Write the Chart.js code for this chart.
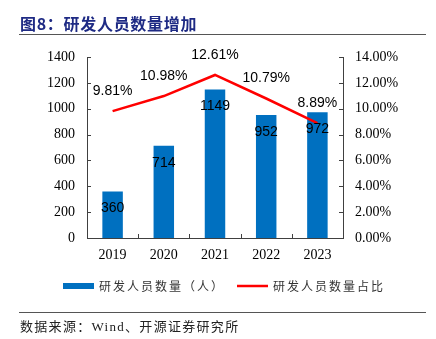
<!DOCTYPE html>
<html lang="zh">
<head>
    <meta charset="UTF-8">
    <title>研发人员数量增加</title>
    <script src="https://cdn.jsdelivr.net/npm/chart.js"></script>
    <style>
        body {
            margin: 0;
            background-color: #fff;
            width: 436px;
            height: 339px;
            overflow: hidden;
            position: relative;
        }
        .title {
            position: absolute;
            left: 20px;
            top: 12px;
            line-height: 22px;
            font-family: "Noto Sans CJK SC", sans-serif;
            font-weight: bold;
            font-size: 16px;
            letter-spacing: 0.7px;
            color: #1e2a84;
        }
        .rule {
            position: absolute;
            left: 19px;
            width: 407px;
            height: 1px;
            background-color: #555;
        }
        .source {
            position: absolute;
            left: 20px;
            top: 317px;
            line-height: 20px;
            font-family: "Liberation Serif", "Noto Sans CJK SC", serif;
            font-size: 13px;
            letter-spacing: 1.3px;
            color: #222;
        }
        #chart {
            position: absolute;
            left: 0;
            top: 0;
        }
    </style>
</head>
<body>
    <canvas id="chart" width="436" height="339"></canvas>
    <div class="title">图8：研发人员数量增加</div>
    <div class="rule" style="top: 34px;"></div>
    <div class="rule" style="top: 312px;"></div>
    <div class="source">数据来源：Wind、开源证券研究所</div>
    <script>
        // data
        const years = ['2019', '2020', '2021', '2022', '2023'];
        const staffCount = [360, 714, 1149, 952, 972];
        const staffShare = [9.81, 10.98, 12.61, 10.79, 8.89];
        const barLabel = '研发人员数量（人）';
        const lineLabel = '研发人员数量占比';

        const axisColor = '#404040';

        // value labels on bars and line points
        const valueLabels = {
            id: 'valueLabels',
            afterDatasetsDraw(chart) {
                const ctx = chart.ctx;
                ctx.save();
                ctx.font = '14px "Liberation Sans", Arial, sans-serif';
                ctx.fillStyle = '#000';
                ctx.textAlign = 'center';
                ctx.textBaseline = 'middle';
                chart.getDatasetMeta(1).data.forEach((el, i) => {
                    ctx.fillText(staffCount[i], el.x, el.y + 17);
                });
                chart.getDatasetMeta(0).data.forEach((el, i) => {
                    ctx.fillText(staffShare[i].toFixed(2) + '%', el.x, el.y - 20);
                });
                ctx.restore();
            }
        };

        // small tick marks pointing into the plot
        const innerTicks = {
            id: 'innerTicks',
            afterDraw(chart) {
                const ctx = chart.ctx;
                const area = chart.chartArea;
                const s = chart.scales;
                ctx.save();
                ctx.strokeStyle = axisColor;
                ctx.lineWidth = 1;
                ctx.beginPath();
                s.y.ticks.forEach(t => {
                    const py = Math.round(s.y.getPixelForValue(t.value)) + 0.5;
                    ctx.moveTo(area.left, py);
                    ctx.lineTo(area.left + 4, py);
                });
                s.y1.ticks.forEach(t => {
                    const py = Math.round(s.y1.getPixelForValue(t.value)) + 0.5;
                    ctx.moveTo(area.right, py);
                    ctx.lineTo(area.right - 4, py);
                });
                for (let i = 1; i < years.length; i++) {
                    const px = Math.round((s.x.getPixelForTick(i - 1) + s.x.getPixelForTick(i)) / 2) + 0.5;
                    ctx.moveTo(px, area.bottom);
                    ctx.lineTo(px, area.bottom - 4);
                }
                ctx.stroke();
                ctx.restore();
            }
        };

        // legend under the axis
        const bottomLegend = {
            id: 'bottomLegend',
            afterDraw(chart) {
                const ctx = chart.ctx;
                const ly = 286;
                ctx.save();
                ctx.fillStyle = chart.data.datasets[1].backgroundColor;
                ctx.fillRect(63, ly - 3, 31, 6);
                ctx.strokeStyle = chart.data.datasets[0].borderColor;
                ctx.lineWidth = 2.5;
                ctx.beginPath();
                ctx.moveTo(237, ly);
                ctx.lineTo(268, ly);
                ctx.stroke();
                ctx.font = '12px "Noto Sans CJK SC", sans-serif';
                ctx.letterSpacing = '2px';
                ctx.fillStyle = '#333';
                ctx.textBaseline = 'middle';
                ctx.fillText(barLabel, 99, ly);
                ctx.fillText(lineLabel, 273, ly);
                ctx.restore();
            }
        };

        const tickFont = { family: '"Liberation Serif", "Times New Roman", serif', size: 14 };

        new Chart(document.getElementById('chart'), {
            data: {
                labels: years,
                datasets: [{
                    type: 'line',
                    label: lineLabel,
                    data: staffShare,
                    yAxisID: 'y1',
                    borderColor: '#ff0000',
                    borderWidth: 2.5,
                    pointRadius: 0,
                    tension: 0,
                    order: 0
                }, {
                    type: 'bar',
                    label: barLabel,
                    data: staffCount,
                    yAxisID: 'y',
                    backgroundColor: '#0070c0',
                    categoryPercentage: 1,
                    barPercentage: 0.4,
                    order: 1
                }]
            },
            options: {
                responsive: false,
                animation: false,
                layout: { padding: { top: 57, bottom: 71, left: 0, right: 0 } },
                plugins: {
                    legend: { display: false },
                    tooltip: { enabled: false }
                },
                scales: {
                    x: {
                        grid: { display: false, drawTicks: false },
                        border: { display: true, color: axisColor },
                        ticks: { color: '#000', font: tickFont, padding: 9 },
                        afterFit: s => { s.height = 30; }
                    },
                    y: {
                        position: 'left',
                        min: 0,
                        max: 1400,
                        grid: { display: false, drawTicks: false },
                        border: { display: true, color: axisColor },
                        ticks: {
                            stepSize: 200,
                            color: '#000',
                            font: tickFont,
                            padding: 12,
                            callback: v => String(v)
                        },
                        afterFit: s => { s.width = 87; }
                    },
                    y1: {
                        position: 'right',
                        min: 0,
                        max: 14,
                        grid: { display: false, drawTicks: false },
                        border: { display: true, color: axisColor },
                        ticks: {
                            stepSize: 2,
                            color: '#000',
                            font: tickFont,
                            padding: 12,
                            callback: v => v.toFixed(2) + '%'
                        },
                        afterFit: s => { s.width = 93; }
                    }
                }
            },
            plugins: [valueLabels, innerTicks, bottomLegend]
        });
    </script>
</body>
</html>
